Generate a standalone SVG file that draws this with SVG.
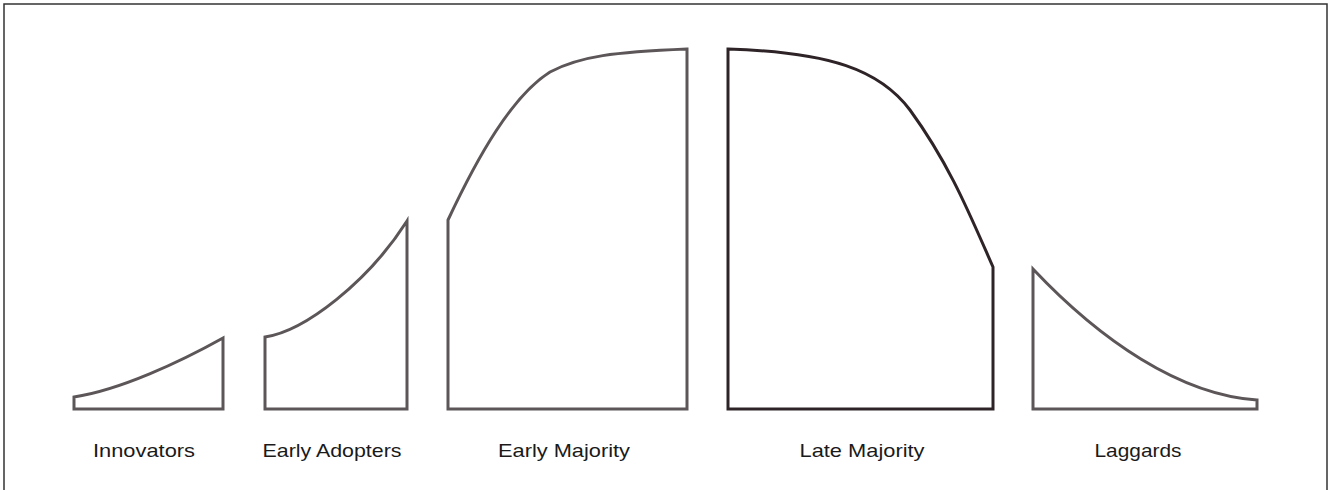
<svg xmlns="http://www.w3.org/2000/svg" width="1333" height="490" viewBox="0 0 1333 490">
<style>
.seg{fill:#ffffff;stroke:#5c5658;stroke-width:3;stroke-linejoin:miter}
.dark{stroke:#2e2427}
.lbl{font-family:"Liberation Sans",Arial,sans-serif;font-size:19px;fill:#1a1a1a;text-anchor:middle}
</style>
<rect x="0" y="0" width="1333" height="490" fill="#ffffff"/>
<path d="M4,490 V4 H1327 V490" fill="none" stroke="#333333" stroke-width="1.5"/>
<g id="innovators">
<path class="seg" d="M74,409 V397 C120,390 180,362 223,338 V409 Z"/>
<text class="lbl" x="144" y="457" textLength="102" lengthAdjust="spacingAndGlyphs">Innovators</text>
</g>
<g id="early-adopters">
<path class="seg" d="M265,409 V337 C305,331 368,282 407,221 V409 Z"/>
<text class="lbl" x="332" y="457" textLength="139" lengthAdjust="spacingAndGlyphs">Early Adopters</text>
</g>
<g id="early-majority">
<path class="seg" d="M448,409 V220 C478,156 512,96 550,72 C580,56 615,52 687,49 V409 Z"/>
<text class="lbl" x="564" y="457" textLength="132" lengthAdjust="spacingAndGlyphs">Early Majority</text>
</g>
<g id="late-majority">
<path class="seg dark" d="M728,409 V49 C830,52 880,70 910,110 C950,165 970,215 993,267 V409 Z"/>
<text class="lbl" x="862" y="457" textLength="125" lengthAdjust="spacingAndGlyphs">Late Majority</text>
</g>
<g id="laggards">
<path class="seg" d="M1033,409 V269 C1100,340 1180,395 1257,400 V409 Z"/>
<text class="lbl" x="1138" y="457" textLength="87" lengthAdjust="spacingAndGlyphs">Laggards</text>
</g>
<g id="connectors"></g>
</svg>
